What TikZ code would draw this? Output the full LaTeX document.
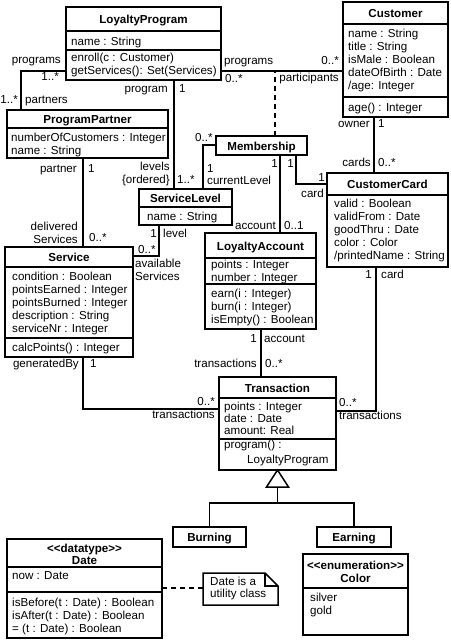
\documentclass[tikz,border=0pt]{standalone}
\usepackage{fontspec}
\setmainfont{Liberation Sans}
\newcounter{tn}
\newcommand\umltext[4][base west]{\stepcounter{tn}\node[lbl,anchor=#1] (t\arabic{tn}) at (#2,#3) {#4};}
\newcommand\umltitle[3]{\stepcounter{tn}\node[ttl,anchor=base] (t\arabic{tn}) at (#1,#2) {#3};}
\newcommand\umlbox[5]{\node[classbox,minimum width=#4pt,minimum height=#5pt,anchor=north west] (#1) at (#2,#3) {};}
\newcommand\umldiv[2]{\draw[ln] (#1.west |- 0,#2) -- (#1.east |- 0,#2);}
\begin{document}
\begin{tikzpicture}[x=1pt,y=-1pt,
  ln/.style={line width=1.5pt},
  classbox/.style={draw,line width=1.5pt,inner sep=0pt,outer sep=0pt},
  lbl/.style={inner sep=0pt,font=\fontsize{11.6}{13}\selectfont},
  ttl/.style={inner sep=0pt,font=\fontsize{11.6}{13}\selectfont\bfseries},
  dsh/.style={line width=1.5pt,dash pattern=on 5pt off 4pt}]
\useasboundingbox[fill=white] (0,0) rectangle (450,640);

% ---------- boxes ----------
\umlbox{lp}{66}{7}{155}{73}\umldiv{lp}{31}\umldiv{lp}{50}
\umlbox{cust}{343}{2}{105}{115}\umldiv{cust}{24}\umldiv{cust}{97}
\umlbox{pp}{7}{110}{161}{48}\umldiv{pp}{128}
\umlbox{mem}{216}{136}{91}{19}
\umlbox{sl}{139}{189}{93}{36}\umldiv{sl}{207}
\umlbox{cc}{327}{173}{121}{94}\umldiv{cc}{195}
\umlbox{la}{205}{233}{111}{96}\umldiv{la}{258}\umldiv{la}{284}
\umlbox{svc}{5}{247}{128}{110}\umldiv{svc}{267}\umldiv{svc}{338}
\umlbox{tr}{219}{377}{117}{93}\umldiv{tr}{398}\umldiv{tr}{439}
\umlbox{burn}{173}{527}{73}{20}
\umlbox{earn}{317}{527}{74}{20}
\umlbox{date}{7}{539}{155}{99}\umldiv{date}{567}\umldiv{date}{592}
\umlbox{col}{303}{554}{105}{81}\umldiv{col}{588}
\node[inner sep=0pt,outer sep=0pt,minimum width=75pt,minimum height=32pt,anchor=north west] (note) at (203,573) {};
\draw[ln,line join=miter] (note.north west) -- ([xshift=-13pt]note.north east) -- ([yshift=-13pt]note.north east) -- (note.south east) -- (note.south west) -- cycle;
\draw[ln] ([xshift=-13pt]note.north east) |- ([yshift=-13pt]note.north east);

% ---------- class texts ----------
\umltitle{143.5}{23.5}{LoyaltyProgram}
\umltext{71}{45}{name : String}
\umltext{71}{61}{enroll(c : Customer)}
\umltext{71}{74}{getServices(): Set(Services)}

\umltitle{395.5}{17.5}{Customer}
\umltext{348}{37}{name : String}
\umltext{348}{50}{title : String}
\umltext{348}{63}{isMale : Boolean}
\umltext{348}{76}{dateOfBirth : Date}
\umltext{348}{89}{/age: Integer}
\umltext{348}{111}{age() : Integer}

\umltitle{87.5}{123.5}{ProgramPartner}
\umltext{11}{141.5}{numberOfCustomers : Integer}
\umltext{11}{154}{name : String}

\umltitle{261.5}{150}{Membership}

\umltitle{185.5}{202.5}{ServiceLevel}
\umltext{147}{220.5}{name : String}

\umltitle{387.5}{188.5}{CustomerCard}
\umltext{334}{207}{valid : Boolean}
\umltext{334}{220}{validFrom : Date}
\umltext{334}{233}{goodThru : Date}
\umltext{334}{246}{color : Color}
\umltext{334}{259}{/printedName : String}

\umltitle{260.5}{250}{LoyaltyAccount}
\umltext{211}{268}{points : Integer}
\umltext{211}{281}{number : Integer}
\umltext{211}{297}{earn(i : Integer)}
\umltext{211}{310}{burn(i : Integer)}
\umltext{211}{323}{isEmpty() : Boolean}

\umltitle{69}{261.5}{Service}
\umltext{12}{280}{condition : Boolean}
\umltext{12}{293}{pointsEarned : Integer}
\umltext{12}{306}{pointsBurned : Integer}
\umltext{12}{319}{description : String}
\umltext{12}{332}{serviceNr : Integer}
\umltext{12}{351}{calcPoints() : Integer}

\umltitle{277.5}{392}{Transaction}
\umltext{224}{410}{points : Integer}
\umltext{224}{422}{date : Date}
\umltext{224}{434}{amount: Real}
\umltext{224}{448}{program() :}
\umltext{247}{463}{LoyaltyProgram}

\umltitle{209.5}{541.5}{Burning}
\umltitle{354}{541.5}{Earning}

\umltitle{84.5}{552}{<\kern0pt<datatype>\kern0pt>}
\umltitle{84.5}{564}{Date}
\umltext{12}{579}{now : Date}
\umltext{12}{606}{isBefore(t : Date) : Boolean}
\umltext{12}{619}{isAfter(t : Date) : Boolean}
\umltext{12}{632}{= (t : Date) : Boolean}

\umltitle{355.5}{569}{<\kern0pt<enumeration>\kern0pt>}
\umltitle{355.5}{582}{Color}
\umltext{310}{601}{silver}
\umltext{310}{614}{gold}

\umltext{210}{585}{Date is a}
\umltext{210}{597}{utility class}

% ---------- connectors ----------
\coordinate (assocmid) at (275,71);
\draw[ln] (lp.west |- 0,71) -| (pp.north -| 21,0);
\draw[ln] (lp.east |- 0,71) -- (cust.west |- 0,71);
\draw[dsh] (mem.north -| assocmid) -- (assocmid);
\draw[ln] (lp.south -| 174,0) -- (sl.north -| 174,0);
\draw[ln] (mem.west |- 0,145) -| (sl.north -| 203,0);
\draw[ln] (mem.south -| 296,0) |- (cc.west |- 0,184);
\draw[ln] (mem.south -| 280,0) -- (la.north -| 280,0);
\draw[ln] (cust.south -| 374,0) -- (cc.north -| 374,0);
\draw[ln] (pp.south -| 83,0) -- (svc.north -| 83,0);
\draw[ln] (sl.south -| 159,0) |- (svc.east |- 0,256);
\draw[ln] (svc.south -| 83,0) |- (tr.west |- 0,409);
\draw[ln] (la.south -| 261,0) -- (tr.north -| 261,0);
\draw[ln] (cc.south -| 376,0) |- (tr.east |- 0,411);
\draw[dsh] (date.east |- 0,588) -- (note.west |- 0,588);
% generalization
\draw[ln,line join=miter] (tr.south) -- ++(-11,17) -- ++(22,0) -- cycle;
\draw[ln] ([yshift=-17pt]tr.south) -- ([yshift=-33pt]tr.south);
\draw[ln] (burn.north) |- ([yshift=-33pt]tr.south) -| (earn.north);

% ---------- association end labels ----------
\umltext[base east]{61}{63}{programs}
\umltext[base east]{59}{80}{1..*}
\umltext[base east]{18}{103}{1..*}
\umltext{25}{103}{partners}
\umltext[base east]{168}{92}{program}
\umltext{179}{92}{1}
\umltext{224}{64}{programs}
\umltext{225}{82}{0..*}
\umltext[base east]{339}{64}{0..*}
\umltext[base east]{339}{81}{participants}
\umltext[base east]{370}{127}{owner}
\umltext{378}{127}{1}
\umltext[base east]{77}{172}{partner}
\umltext{88}{172}{1}
\umltext[base east]{170}{170}{levels}
\umltext[base east]{170}{183}{\{ordered\}}
\umltext{177}{183}{1..*}
\umltext{195}{141}{0..*}
\umltext{207}{172}{1}
\umltext{207}{184}{currentLevel}
\umltext[base east]{78}{230}{delivered}
\umltext[base east]{78}{243}{Services}
\umltext{89}{241}{0..*}
\umltext[base east]{157}{237}{1}
\umltext{163}{237}{level}
\umltext{138}{253}{0..*}
\umltext{135}{267}{available}
\umltext{135}{280}{Services}
\umltext[base east]{278}{167}{1}
\umltext[base east]{294}{167}{1}
\umltext[base east]{325}{181}{1}
\umltext[base east]{324}{197}{card}
\umltext[base east]{371}{166}{cards}
\umltext{378}{166}{0..*}
\umltext[base east]{276}{229}{account}
\umltext{284}{229}{0..1}
\umltext[base east]{372}{278}{1}
\umltext{381}{278}{card}
\umltext[base east]{79}{367}{generatedBy}
\umltext{90}{367}{1}
\umltext[base east]{215}{405}{0..*}
\umltext[base east]{215}{418}{transactions}
\umltext[base east]{257}{342}{1}
\umltext{264}{342}{account}
\umltext[base east]{257}{367}{transactions}
\umltext{265}{367}{0..*}
\umltext{339}{406}{0..*}
\umltext{339}{419}{transactions}
\end{tikzpicture}
\end{document}
